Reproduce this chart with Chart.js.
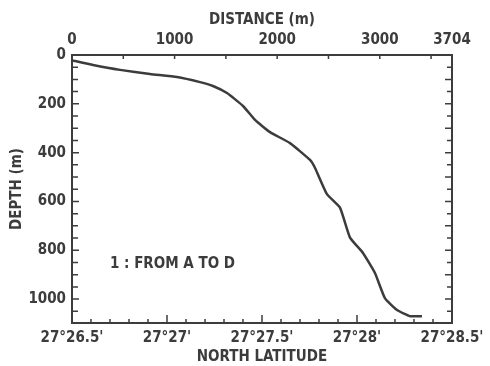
<!DOCTYPE html>
<html lang="en">
<head>
    <meta charset="UTF-8">
    <title>Depth profile</title>
    <script src="https://cdn.jsdelivr.net/npm/chart.js"></script>
    <style>
        body { margin: 0; background: #fff; }
        #wrap { width: 490px; height: 366px; }
    </style>
</head>
<body>
    <div id="wrap"><canvas id="canvas" width="490" height="366"></canvas></div>
</body>
</html>
<script>
    // profile: distance along track (m) and depth (m)
    const distance = [0, 205, 468, 760, 1023, 1248, 1374, 1511, 1667, 1784, 1930, 2125, 2320, 2369, 2485, 2612, 2710, 2836, 2953, 3050, 3168, 3295, 3411];
    const depth = [22, 41, 61, 78, 90, 111, 127, 156, 209, 266, 316, 361, 430, 463, 570, 625, 748, 811, 893, 996, 1045, 1070, 1070];

    const distanceTicks = [0, 1000, 2000, 3000, 3704];
    const depthTicks = [0, 200, 400, 600, 800, 1000];
    const latTicks = [26.5, 27, 27.5, 28, 28.5];   // minutes past 27°
    const note = '1 : FROM A TO D';

    const ink = '#3c3c3c';
    const font = { family: "'DejaVu Sans Condensed', 'Liberation Sans Narrow', sans-serif", weight: 'bold', size: 15 };

    // frame and inward tick marks, like the original plot
    const frame = {
        id: 'frame',
        afterDatasetsDraw(chart) {
            const { ctx, chartArea: a, scales } = chart;
            const y = scales.y, xd = scales.x, xl = scales.lat;
            ctx.save();
            ctx.strokeStyle = ink;
            ctx.lineWidth = 2;
            ctx.strokeRect(a.left, a.top, a.right - a.left, a.bottom - a.top);
            ctx.lineWidth = 1.5;
            ctx.beginPath();
            for (let v = 50; v <= 1050; v += 50) {
                const p = y.getPixelForValue(v);
                ctx.moveTo(a.left, p); ctx.lineTo(a.left + (v % 200 === 0 ? 7 : 6), p);
                ctx.moveTo(a.right, p); ctx.lineTo(a.right - (v % 100 === 0 ? 7 : 5), p);
            }
            for (let v = 500; v < 3704; v += 500) {
                const p = xd.getPixelForValue(v);
                ctx.moveTo(p, a.top); ctx.lineTo(p, a.top + 4);
            }
            for (let i = 1; i < 20; i++) {
                const p = xl.getPixelForValue(26.5 + i * 0.1);
                ctx.moveTo(p, a.bottom); ctx.lineTo(p, a.bottom - (i % 5 === 0 ? 8 : 4));
            }
            ctx.stroke();

            ctx.fillStyle = ink;
            ctx.font = `bold 15px ${font.family}`;
            ctx.textBaseline = 'middle';
            ctx.fillText(note, xd.getPixelForValue(370), y.getPixelForValue(857));
            ctx.restore();
        }
    };

    const ctx = document.getElementById('canvas').getContext('2d');
    const chart = new Chart(ctx, {
        type: 'line',
        data: {
            datasets: [{
                data: distance.map((d, i) => ({ x: d, y: depth[i] })),
                borderColor: ink,
                borderWidth: 2.5,
                pointRadius: 0,
                tension: 0.15,
                fill: false
            }]
        },
        options: {
            responsive: false,
            animation: false,
            layout: { padding: { right: 38, top: 0, left: 0, bottom: 0 } },
            plugins: { legend: { display: false }, tooltip: { enabled: false } },
            scales: {
                x: {
                    type: 'linear',
                    position: 'top',
                    min: 0,
                    max: 3704,
                    afterBuildTicks: s => { s.ticks = distanceTicks.map(v => ({ value: v })); },
                    afterFit: s => { s.height = 55; },
                    grid: { display: false, drawTicks: false },
                    border: { display: false },
                    ticks: { color: ink, font: font, padding: 6, maxRotation: 0, autoSkip: false, callback: v => String(v) },
                    title: { display: true, text: 'DISTANCE (m)', color: ink, font: font, padding: { top: 11, bottom: 0 } }
                },
                lat: {
                    type: 'linear',
                    position: 'bottom',
                    min: 26.5,
                    max: 28.5,
                    afterBuildTicks: s => { s.ticks = latTicks.map(v => ({ value: v })); },
                    afterFit: s => { s.height = 43; },
                    grid: { display: false, drawTicks: false },
                    border: { display: false },
                    ticks: {
                        color: ink, font: font, padding: 6, maxRotation: 0, autoSkip: false,
                        callback: v => "27°" + (v === Math.floor(v) ? String(v) : v.toFixed(1)) + "'"
                    },
                    title: { display: true, text: 'NORTH LATITUDE', color: ink, font: font, padding: { top: 0, bottom: 0 } }
                },
                y: {
                    type: 'linear',
                    reverse: true,
                    min: 0,
                    max: 1098,
                    afterBuildTicks: s => { s.ticks = depthTicks.map(v => ({ value: v })); },
                    afterFit: s => { s.width = 72; },
                    grid: { display: false, drawTicks: false },
                    border: { display: false },
                    ticks: { color: ink, font: font, padding: 6, callback: v => String(v) },
                    title: { display: true, text: 'DEPTH (m)', color: ink, font: font, padding: { top: 8, bottom: 0 } }
                }
            }
        },
        plugins: [frame]
    });
</script>
